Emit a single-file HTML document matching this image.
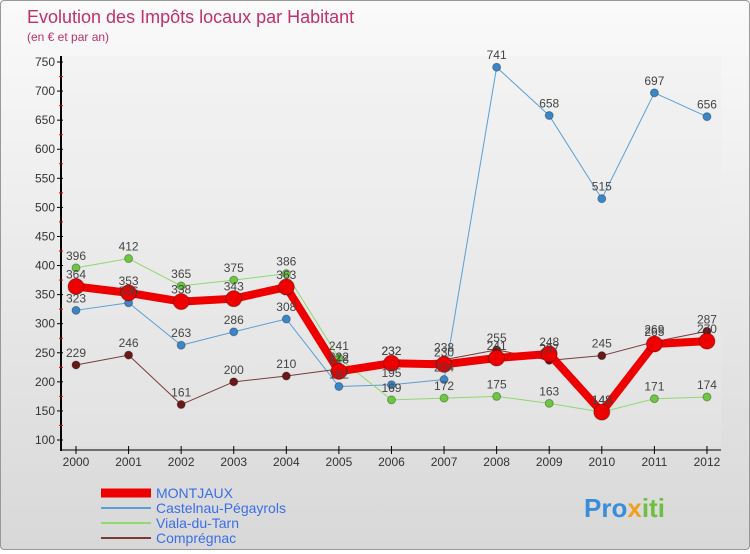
<!DOCTYPE html>
<html><head><meta charset="utf-8"><style>
body{margin:0;width:750px;height:550px;overflow:hidden;font-family:"Liberation Sans",sans-serif}
#wrap{position:relative;width:748px;height:548px;border:1px solid #999;border-radius:4px;background:linear-gradient(#fafafa,#d8d8d8)}
</style></head><body>
<div id="wrap">
<svg id="svg" width="748" height="548" xmlns="http://www.w3.org/2000/svg">
<text x="26" y="22" font-size="18" fill="#c0306a">Evolution des Impôts locaux par Habitant</text>
<text x="26" y="40" font-size="12" fill="#c0306a">(en € et par an)</text>
<g id="axes"></g><g id="series"></g><g id="legend"></g>
<text x="583" y="516" font-size="26" font-weight="bold" fill="#3a8ed8">Pro<tspan fill="#f0a020">x</tspan><tspan fill="#6cc040">iti</tspan></text>
</svg></div>
<script>
const years=["2000","2001","2002","2003","2004","2005","2006","2007","2008","2009","2010","2011","2012"];
const yTicks=[100,150,200,250,300,350,400,450,500,550,600,650,700,750];
const montjaux=[364,353,338,343,363,218,232,230,241,248,148,265,270];
const castelnau=[323,336,263,286,308,192,195,204,741,658,515,697,656];
const viala=[396,412,365,375,386,241,169,172,175,163,148,171,174];
const compregnac=[229,246,161,200,210,222,232,238,255,237,245,269,287];
const NS="http://www.w3.org/2000/svg";
const X=i=>75+i*52.58, Y=v=>439-(v-100)*(378/650);
function el(t,a,p){const e=document.createElementNS(NS,t);for(const k in a)e.setAttribute(k,a[k]);p.appendChild(e);return e;}
const ax=document.getElementById('axes');
const bg=el('rect',{x:60,y:55,width:660,height:390,fill:'#ececec',opacity:0.3},ax);


const ya=el('line',{x1:60,y1:55,x2:60,y2:450,stroke:'#000','stroke-width':2},ax);


const xa=el('line',{x1:60,y1:449,x2:720,y2:449,stroke:'#000','stroke-width':1},ax);


yTicks.forEach(v=>{
 el('line',{x1:56,y1:Y(v),x2:62,y2:Y(v),stroke:'#000'},ax);
 if(v<750) el('line',{x1:58,y1:Y(v+25),x2:62,y2:Y(v+25),stroke:'#e00'},ax);
 const t=el('text',{x:54,y:Y(v)+4,'font-size':12,'text-anchor':'end',fill:'#333'},ax);t.textContent=v;
 
 
});
years.forEach((y,i)=>{
 el('line',{x1:X(i),y1:445,x2:X(i),y2:453,stroke:'#000'},ax);
 const t=el('text',{x:X(i),y:465,'font-size':12,'text-anchor':'middle',fill:'#333'},ax);t.textContent=y;
 
 
});
const sg=document.getElementById('series');
const defs=[[castelnau,'#5a9fd4','#3a86c8',1,4,'castelnau'],[viala,'#90d870','#6cc840',1,4,'viala'],[compregnac,'#7a3a3a','#6a1818',1,4,'compregnac'],[montjaux,'#ee0000','#ee0000',8,8,'montjaux']];
function draw(d,pts){
 const [data,lc,mc,w,r,n]=d;
 const g=el('g',{},sg);
 
 
 const p=el('polyline',{points:data.map((v,i)=>X(i)+','+Y(v)).join(' '),fill:'none',stroke:lc,'stroke-width':w,'stroke-linejoin':'round'},g);
 
 
 data.forEach((v,i)=>{
  const c=el('circle',{cx:X(i),cy:Y(v),r:r,fill:mc,stroke:'rgba(0,0,0,0.3)'},g);
  
  
 });
}
function labels(d){
 const [data,, , , ,n]=d;
 data.forEach((v,i)=>{
  const t=el('text',{x:X(i),y:Y(v)-8,'font-size':12,'text-anchor':'middle',fill:'#444'},sg);t.textContent=v;
  
  
 });
}
defs.forEach(draw);defs.forEach(labels);
const lg=document.getElementById('legend');
const ld=[['MONTJAUX','#ee0000',9],['Castelnau-Pégayrols','#5a9fd4',2],['Viala-du-Tarn','#90d870',2],['Comprégnac','#7a3a3a',2]];
ld.forEach((l,i)=>{
 const y=492+i*15;
 const g=el('g',{},lg);
 
 
 el('line',{x1:100,y1:y,x2:150,y2:y,stroke:l[1],'stroke-width':l[2]},g);
 const t=el('text',{x:155,y:y+5,'font-size':14,fill:'#3a6ee8'},g);t.textContent=l[0];
});
</script></body></html>
